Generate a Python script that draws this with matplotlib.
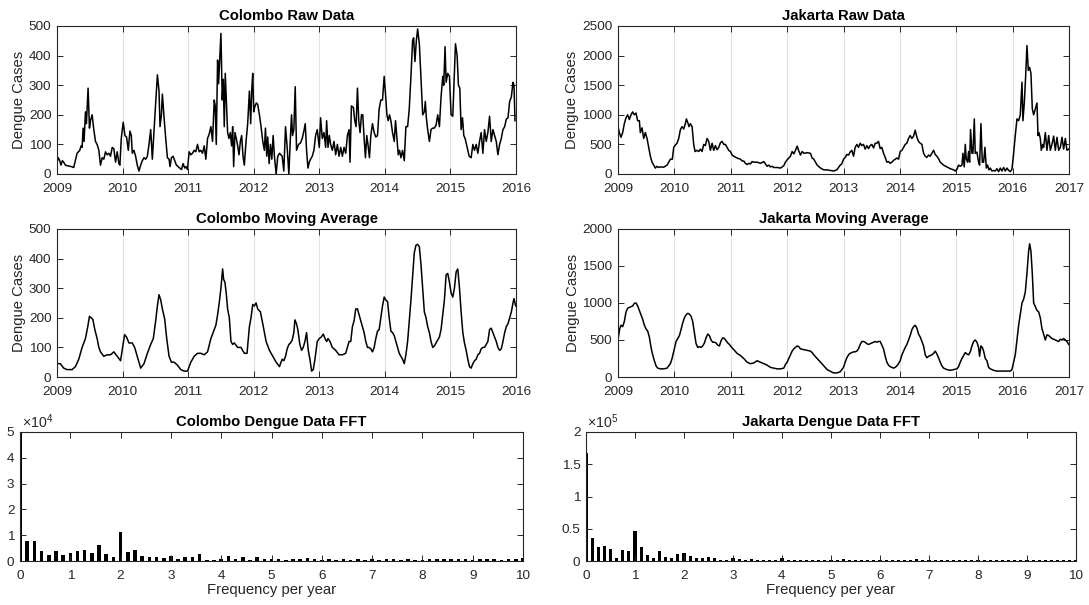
import numpy as np
import matplotlib
matplotlib.use("Agg")
import matplotlib.pyplot as plt
from matplotlib.ticker import FuncFormatter, MultipleLocator

plt.rcParams["font.family"] = ["Liberation Sans", "DejaVu Sans"]
plt.rcParams["mathtext.fontset"] = "custom"
plt.rcParams["mathtext.rm"] = "Liberation Sans"
plt.rcParams["mathtext.it"] = "Liberation Sans:italic"

# ---- data (decimal year, weekly cases) ----
colombo_raw_t = [
    2009.000, 2009.020, 2009.041, 2009.061, 2009.082, 2009.102, 2009.128, 2009.153, 2009.204, 2009.255,
    2009.306, 2009.347, 2009.367, 2009.383, 2009.398, 2009.413, 2009.434, 2009.449, 2009.474, 2009.495,
    2009.510, 2009.536, 2009.561, 2009.587, 2009.612, 2009.638, 2009.663, 2009.689, 2009.714, 2009.740,
    2009.765, 2009.791, 2009.816, 2009.842, 2009.867, 2009.893, 2009.918, 2009.944, 2009.959, 2009.980,
    2010.010, 2010.036, 2010.061, 2010.087, 2010.112, 2010.133, 2010.148, 2010.173, 2010.199, 2010.224,
    2010.250, 2010.276, 2010.301, 2010.327, 2010.352, 2010.378, 2010.403, 2010.429, 2010.454, 2010.480,
    2010.505, 2010.531, 2010.556, 2010.571, 2010.592, 2010.607, 2010.633, 2010.658, 2010.684, 2010.709,
    2010.724, 2010.745, 2010.770, 2010.796, 2010.821, 2010.847, 2010.872, 2010.898, 2010.923, 2010.949,
    2010.969, 2010.990, 2011.015, 2011.041, 2011.066, 2011.092, 2011.117, 2011.143, 2011.168, 2011.194,
    2011.219, 2011.245, 2011.270, 2011.296, 2011.321, 2011.347, 2011.372, 2011.398, 2011.413, 2011.429,
    2011.449, 2011.464, 2011.480, 2011.500, 2011.520, 2011.536, 2011.551, 2011.566, 2011.582, 2011.602,
    2011.622, 2011.643, 2011.663, 2011.679, 2011.694, 2011.714, 2011.735, 2011.755, 2011.776, 2011.796,
    2011.816, 2011.837, 2011.857, 2011.883, 2011.908, 2011.934, 2011.954, 2011.969, 2011.985, 2012.000,
    2012.020, 2012.041, 2012.061, 2012.087, 2012.112, 2012.138, 2012.163, 2012.179, 2012.199, 2012.214,
    2012.235, 2012.255, 2012.276, 2012.296, 2012.316, 2012.342, 2012.367, 2012.393, 2012.434, 2012.459,
    2012.485, 2012.510, 2012.536, 2012.561, 2012.577, 2012.592, 2012.612, 2012.633, 2012.653, 2012.684,
    2012.714, 2012.740, 2012.765, 2012.786, 2012.806, 2012.827, 2012.847, 2012.867, 2012.893, 2012.918,
    2012.944, 2012.969, 2013.000, 2013.020, 2013.046, 2013.071, 2013.097, 2013.112, 2013.133, 2013.153,
    2013.173, 2013.199, 2013.224, 2013.250, 2013.276, 2013.301, 2013.327, 2013.352, 2013.378, 2013.403,
    2013.429, 2013.454, 2013.469, 2013.490, 2013.520, 2013.541, 2013.561, 2013.582, 2013.602, 2013.622,
    2013.643, 2013.663, 2013.684, 2013.704, 2013.724, 2013.745, 2013.765, 2013.786, 2013.811, 2013.837,
    2013.862, 2013.888, 2013.913, 2013.939, 2013.964, 2013.990, 2014.010, 2014.031, 2014.051, 2014.071,
    2014.092, 2014.117, 2014.143, 2014.163, 2014.184, 2014.204, 2014.224, 2014.245, 2014.270, 2014.296,
    2014.321, 2014.347, 2014.372, 2014.398, 2014.423, 2014.439, 2014.459, 2014.480, 2014.500, 2014.526,
    2014.551, 2014.577, 2014.602, 2014.617, 2014.633, 2014.653, 2014.679, 2014.704, 2014.730, 2014.755,
    2014.781, 2014.806, 2014.832, 2014.857, 2014.883, 2014.898, 2014.918, 2014.934, 2014.959, 2014.985,
    2015.010, 2015.036, 2015.077, 2015.102, 2015.122, 2015.143, 2015.163, 2015.184, 2015.204, 2015.224,
    2015.255, 2015.286, 2015.316, 2015.342, 2015.367, 2015.393, 2015.418, 2015.444, 2015.469, 2015.495,
    2015.520, 2015.546, 2015.571, 2015.597, 2015.622, 2015.648, 2015.673, 2015.699, 2015.724, 2015.750,
    2015.776, 2015.801, 2015.827, 2015.852, 2015.878, 2015.903, 2015.929, 2015.954, 2015.969, 2015.985,
]
colombo_raw = [
    40, 55, 45, 30, 45, 40, 30, 28, 26, 22,
    70, 80, 95, 90, 155, 110, 210, 170, 290, 155,
    180, 200, 150, 110, 100, 80, 30, 55, 50, 75,
    65, 70, 60, 90, 85, 40, 75, 35, 30, 120,
    175, 130, 125, 80, 145, 130, 70, 80, 60, 30,
    10, 30, 45, 55, 50, 60, 100, 150, 50, 150,
    240, 335, 280, 160, 200, 270, 190, 120, 55, 50,
    25, 55, 60, 45, 30, 25, 20, 15, 35, 20,
    25, 15, 75, 65, 70, 80, 75, 100, 75, 80,
    70, 95, 50, 120, 135, 160, 110, 250, 230, 100,
    385, 305, 380, 475, 250, 320, 160, 340, 250, 140,
    120, 140, 95, 160, 25, 140, 120, 95, 65, 110,
    130, 60, 30, 110, 170, 280, 170, 280, 340, 210,
    230, 240, 235, 200, 160, 110, 80, 155, 60, 125,
    35, 100, 50, 130, 60, 0, 60, 70, 60, 10,
    160, 90, 0, 130, 200, 130, 150, 295, 80, 100,
    105, 120, 145, 170, 80, 20, 40, 50, 60, 80,
    130, 150, 90, 190, 120, 140, 90, 180, 90, 130,
    100, 80, 110, 65, 100, 60, 90, 60, 90, 70,
    130, 150, 40, 230, 225, 180, 160, 290, 180, 140,
    200, 200, 120, 55, 130, 95, 55, 130, 170, 140,
    125, 130, 220, 250, 250, 330, 270, 200, 180, 200,
    180, 140, 110, 180, 120, 65, 80, 55, 80, 45,
    160, 160, 220, 330, 450, 460, 380, 450, 490, 440,
    320, 200, 210, 245, 190, 150, 110, 150, 155, 155,
    165, 200, 160, 260, 330, 300, 430, 310, 340, 330,
    200, 195, 440, 400, 300, 290, 150, 190, 130, 120,
    90, 60, 55, 100, 80, 100, 70, 110, 140, 70,
    150, 110, 140, 195, 110, 150, 130, 110, 65, 100,
    120, 150, 160, 185, 190, 245, 260, 310, 300, 180,
]

colombo_ma_t = [
    2009.000, 2009.051, 2009.102, 2009.153, 2009.230, 2009.281, 2009.332, 2009.383, 2009.434, 2009.469,
    2009.495, 2009.520, 2009.546, 2009.577, 2009.612, 2009.638, 2009.663, 2009.714, 2009.765, 2009.816,
    2009.867, 2009.918, 2009.969, 2010.000, 2010.031, 2010.061, 2010.097, 2010.148, 2010.184, 2010.224,
    2010.276, 2010.327, 2010.378, 2010.429, 2010.469, 2010.505, 2010.531, 2010.556, 2010.582, 2010.607,
    2010.643, 2010.673, 2010.709, 2010.745, 2010.786, 2010.837, 2010.888, 2010.939, 2010.990, 2011.041,
    2011.092, 2011.143, 2011.194, 2011.245, 2011.296, 2011.347, 2011.398, 2011.423, 2011.449, 2011.474,
    2011.500, 2011.526, 2011.541, 2011.561, 2011.582, 2011.602, 2011.628, 2011.653, 2011.679, 2011.704,
    2011.755, 2011.806, 2011.857, 2011.898, 2011.934, 2011.959, 2011.985, 2012.010, 2012.036, 2012.061,
    2012.102, 2012.138, 2012.189, 2012.240, 2012.291, 2012.342, 2012.393, 2012.408, 2012.434, 2012.459,
    2012.485, 2012.510, 2012.536, 2012.561, 2012.587, 2012.612, 2012.628, 2012.653, 2012.673, 2012.704,
    2012.730, 2012.755, 2012.781, 2012.806, 2012.832, 2012.857, 2012.883, 2012.908, 2012.934, 2012.969,
    2013.000, 2013.031, 2013.061, 2013.087, 2013.112, 2013.133, 2013.163, 2013.199, 2013.250, 2013.301,
    2013.352, 2013.403, 2013.429, 2013.454, 2013.480, 2013.505, 2013.531, 2013.556, 2013.582, 2013.607,
    2013.633, 2013.658, 2013.684, 2013.709, 2013.735, 2013.760, 2013.786, 2013.811, 2013.837, 2013.862,
    2013.888, 2013.913, 2013.939, 2013.964, 2013.990, 2014.015, 2014.041, 2014.066, 2014.092, 2014.117,
    2014.143, 2014.168, 2014.194, 2014.219, 2014.245, 2014.270, 2014.296, 2014.321, 2014.347, 2014.372,
    2014.398, 2014.423, 2014.449, 2014.474, 2014.500, 2014.526, 2014.551, 2014.577, 2014.602, 2014.628,
    2014.653, 2014.679, 2014.704, 2014.730, 2014.755, 2014.781, 2014.806, 2014.832, 2014.857, 2014.883,
    2014.908, 2014.934, 2014.959, 2014.985, 2015.010, 2015.036, 2015.061, 2015.087, 2015.112, 2015.138,
    2015.163, 2015.189, 2015.214, 2015.240, 2015.265, 2015.291, 2015.316, 2015.342, 2015.367, 2015.393,
    2015.418, 2015.444, 2015.469, 2015.495, 2015.520, 2015.546, 2015.571, 2015.597, 2015.622, 2015.648,
    2015.673, 2015.699, 2015.724, 2015.750, 2015.776, 2015.801, 2015.827, 2015.852, 2015.878, 2015.903,
    2015.929, 2015.954, 2015.969, 2015.995,
]
colombo_ma = [
    45, 45, 30, 25, 25, 35, 60, 100, 130, 170,
    205, 200, 195, 160, 130, 100, 85, 70, 75, 75,
    85, 70, 55, 100, 143, 135, 115, 115, 100, 70,
    30, 45, 80, 110, 130, 190, 240, 278, 260, 230,
    195, 130, 70, 50, 50, 40, 25, 20, 20, 50,
    70, 80, 80, 75, 85, 130, 160, 175, 210, 250,
    300, 365, 330, 320, 280, 230, 200, 120, 110, 115,
    100, 100, 80, 80, 170, 200, 245, 240, 250, 230,
    220, 180, 120, 90, 70, 50, 35, 45, 60, 55,
    70, 95, 110, 115, 125, 150, 193, 180, 160, 110,
    90, 100, 120, 150, 90, 60, 20, 25, 60, 120,
    130, 135, 145, 130, 120, 130, 120, 100, 90, 75,
    75, 80, 100, 120, 120, 170, 190, 230, 230, 210,
    190, 170, 150, 120, 100, 100, 95, 85, 100, 130,
    155, 160, 200, 240, 270, 260, 255, 200, 155, 150,
    140, 120, 100, 80, 70, 60, 45, 75, 120, 190,
    260, 340, 420, 445, 448, 440, 380, 300, 220, 200,
    170, 150, 120, 100, 105, 115, 125, 135, 160, 210,
    260, 345, 350, 320, 285, 270, 300, 355, 365, 300,
    220, 150, 115, 90, 60, 35, 30, 45, 55, 60,
    75, 80, 95, 100, 100, 110, 120, 160, 165, 150,
    135, 120, 100, 90, 95, 120, 150, 170, 180, 200,
    220, 250, 265, 240,
]

jakarta_raw_t = [
    2009.000, 2009.024, 2009.053, 2009.083, 2009.112, 2009.142, 2009.172, 2009.201, 2009.231, 2009.260,
    2009.290, 2009.320, 2009.349, 2009.379, 2009.396, 2009.426, 2009.456, 2009.485, 2009.515, 2009.544,
    2009.574, 2009.604, 2009.633, 2009.663, 2009.692, 2009.722, 2009.751, 2009.811, 2009.870, 2009.899,
    2009.929, 2009.964, 2009.988, 2010.018, 2010.047, 2010.077, 2010.107, 2010.136, 2010.166, 2010.195,
    2010.213, 2010.237, 2010.260, 2010.284, 2010.314, 2010.343, 2010.367, 2010.402, 2010.432, 2010.462,
    2010.491, 2010.521, 2010.550, 2010.580, 2010.609, 2010.639, 2010.669, 2010.698, 2010.728, 2010.757,
    2010.787, 2010.817, 2010.846, 2010.876, 2010.905, 2010.935, 2010.964, 2010.994, 2011.024, 2011.053,
    2011.112, 2011.172, 2011.201, 2011.231, 2011.260, 2011.290, 2011.320, 2011.349, 2011.379, 2011.408,
    2011.467, 2011.527, 2011.586, 2011.645, 2011.675, 2011.704, 2011.734, 2011.763, 2011.822, 2011.882,
    2011.941, 2011.970, 2012.000, 2012.030, 2012.059, 2012.089, 2012.118, 2012.148, 2012.178, 2012.207,
    2012.237, 2012.266, 2012.296, 2012.355, 2012.414, 2012.444, 2012.473, 2012.503, 2012.533, 2012.592,
    2012.651, 2012.710, 2012.763, 2012.822, 2012.882, 2012.941, 2012.970, 2013.000, 2013.030, 2013.059,
    2013.089, 2013.118, 2013.148, 2013.178, 2013.207, 2013.237, 2013.266, 2013.296, 2013.325, 2013.355,
    2013.385, 2013.414, 2013.444, 2013.473, 2013.503, 2013.533, 2013.562, 2013.592, 2013.621, 2013.651,
    2013.680, 2013.710, 2013.740, 2013.769, 2013.799, 2013.828, 2013.858, 2013.888, 2013.917, 2013.947,
    2013.976, 2014.006, 2014.036, 2014.065, 2014.095, 2014.124, 2014.154, 2014.183, 2014.213, 2014.243,
    2014.272, 2014.302, 2014.331, 2014.361, 2014.391, 2014.420, 2014.450, 2014.479, 2014.509, 2014.538,
    2014.568, 2014.598, 2014.627, 2014.657, 2014.686, 2014.716, 2014.775, 2014.834, 2014.893, 2014.953,
    2014.982, 2015.012, 2015.041, 2015.071, 2015.101, 2015.118, 2015.142, 2015.160, 2015.178, 2015.201,
    2015.219, 2015.237, 2015.254, 2015.278, 2015.296, 2015.320, 2015.337, 2015.367, 2015.396, 2015.414,
    2015.438, 2015.462, 2015.485, 2015.509, 2015.533, 2015.556, 2015.580, 2015.604, 2015.633, 2015.663,
    2015.692, 2015.722, 2015.751, 2015.781, 2015.811, 2015.840, 2015.870, 2015.899, 2015.929, 2015.959,
    2015.988, 2016.018, 2016.047, 2016.077, 2016.107, 2016.136, 2016.166, 2016.183, 2016.207, 2016.231,
    2016.254, 2016.278, 2016.302, 2016.325, 2016.349, 2016.373, 2016.402, 2016.432, 2016.450, 2016.467,
    2016.491, 2016.509, 2016.533, 2016.550, 2016.580, 2016.609, 2016.639, 2016.669, 2016.698, 2016.728,
    2016.757, 2016.787, 2016.817, 2016.846, 2016.876, 2016.905, 2016.935, 2016.964, 2016.994,
]
jakarta_raw = [
    800, 700, 620, 700, 850, 950, 1000, 920, 1000, 1050,
    1000, 1030, 900, 900, 700, 780, 600, 700, 600, 450,
    300, 200, 150, 100, 130, 110, 120, 115, 150, 200,
    250, 250, 450, 490, 520, 600, 750, 800, 760, 850,
    930, 870, 800, 850, 800, 500, 380, 400, 380, 420,
    380, 500, 480, 600, 550, 400, 520, 400, 480, 410,
    450, 530, 550, 500, 500, 450, 400, 380, 320, 300,
    270, 250, 220, 220, 180, 160, 180, 170, 210, 200,
    200, 180, 210, 130, 150, 120, 130, 110, 110, 100,
    140, 200, 240, 270, 300, 380, 340, 400, 470, 390,
    320, 380, 350, 360, 350, 270, 250, 200, 150, 100,
    70, 70, 60, 50, 70, 150, 170, 250, 280, 330,
    320, 370, 400, 300, 450, 500, 450, 520, 480, 500,
    420, 480, 430, 480, 500, 440, 520, 520, 550, 430,
    450, 350, 280, 200, 210, 180, 200, 230, 250, 270,
    250, 380, 400, 450, 500, 520, 600, 650, 600, 640,
    740, 620, 550, 520, 500, 350, 300, 280, 320, 300,
    350, 400, 330, 300, 260, 200, 150, 120, 90, 70,
    50, 80, 150, 130, 150, 350, 120, 500, 250, 200,
    380, 200, 750, 350, 350, 930, 350, 370, 200, 150,
    850, 200, 200, 450, 100, 150, 70, 100, 50, 60,
    50, 90, 40, 100, 50, 110, 50, 100, 60, 40,
    80, 350, 650, 930, 900, 1000, 1550, 900, 1200, 1650,
    2170, 1750, 1800, 1700, 1100, 1000, 1100, 1200, 650, 700,
    600, 400, 500, 450, 700, 400, 650, 400, 500, 640,
    400, 620, 400, 450, 620, 420, 600, 400, 420,
]

jakarta_ma_t = [
    2009.000, 2009.030, 2009.053, 2009.083, 2009.112, 2009.142, 2009.172, 2009.201, 2009.231, 2009.260,
    2009.290, 2009.320, 2009.349, 2009.379, 2009.408, 2009.438, 2009.467, 2009.497, 2009.527, 2009.556,
    2009.586, 2009.615, 2009.645, 2009.675, 2009.704, 2009.751, 2009.811, 2009.870, 2009.929, 2009.959,
    2010.000, 2010.030, 2010.059, 2010.089, 2010.118, 2010.148, 2010.178, 2010.207, 2010.237, 2010.266,
    2010.296, 2010.325, 2010.355, 2010.385, 2010.414, 2010.444, 2010.473, 2010.503, 2010.533, 2010.562,
    2010.592, 2010.621, 2010.651, 2010.680, 2010.710, 2010.740, 2010.769, 2010.799, 2010.828, 2010.858,
    2010.888, 2010.917, 2010.947, 2010.976, 2011.006, 2011.053, 2011.112, 2011.172, 2011.231, 2011.290,
    2011.349, 2011.408, 2011.467, 2011.497, 2011.527, 2011.586, 2011.645, 2011.704, 2011.763, 2011.822,
    2011.882, 2011.941, 2011.970, 2012.000, 2012.030, 2012.059, 2012.089, 2012.118, 2012.148, 2012.178,
    2012.207, 2012.237, 2012.296, 2012.355, 2012.414, 2012.444, 2012.473, 2012.533, 2012.592, 2012.651,
    2012.710, 2012.822, 2012.882, 2012.941, 2013.000, 2013.030, 2013.059, 2013.089, 2013.118, 2013.148,
    2013.178, 2013.207, 2013.237, 2013.266, 2013.296, 2013.325, 2013.355, 2013.385, 2013.414, 2013.444,
    2013.473, 2013.503, 2013.533, 2013.562, 2013.592, 2013.621, 2013.651, 2013.680, 2013.710, 2013.740,
    2013.769, 2013.799, 2013.828, 2013.858, 2013.888, 2013.917, 2013.947, 2013.976, 2014.006, 2014.036,
    2014.065, 2014.095, 2014.124, 2014.154, 2014.183, 2014.213, 2014.243, 2014.272, 2014.302, 2014.331,
    2014.361, 2014.391, 2014.420, 2014.450, 2014.479, 2014.509, 2014.538, 2014.568, 2014.598, 2014.627,
    2014.657, 2014.686, 2014.716, 2014.746, 2014.775, 2014.834, 2014.893, 2014.953, 2015.012, 2015.041,
    2015.071, 2015.101, 2015.130, 2015.160, 2015.189, 2015.219, 2015.249, 2015.278, 2015.308, 2015.337,
    2015.367, 2015.396, 2015.414, 2015.438, 2015.462, 2015.485, 2015.515, 2015.544, 2015.574, 2015.604,
    2015.663, 2015.722, 2015.781, 2015.840, 2015.899, 2015.959, 2015.988, 2016.018, 2016.047, 2016.077,
    2016.107, 2016.136, 2016.166, 2016.195, 2016.225, 2016.254, 2016.284, 2016.302, 2016.325, 2016.349,
    2016.373, 2016.402, 2016.432, 2016.462, 2016.491, 2016.521, 2016.550, 2016.580, 2016.609, 2016.639,
    2016.669, 2016.698, 2016.728, 2016.757, 2016.787, 2016.817, 2016.846, 2016.876, 2016.905, 2016.935,
    2016.964, 2016.994,
]
jakarta_ma = [
    500, 650, 700, 680, 750, 880, 930, 940, 950, 960,
    995, 1000, 960, 900, 840, 780, 700, 650, 620, 540,
    400, 300, 220, 150, 120, 110, 110, 120, 180, 250,
    380, 480, 520, 560, 640, 730, 800, 840, 860, 850,
    820, 750, 600, 450, 400, 410, 400, 420, 460, 530,
    580, 560, 500, 470, 470, 460, 430, 420, 490, 530,
    520, 490, 460, 440, 410, 370, 320, 290, 250, 200,
    180, 190, 220, 210, 200, 180, 160, 130, 120, 110,
    110, 120, 170, 200, 250, 300, 350, 380, 400, 420,
    410, 380, 370, 360, 350, 330, 300, 250, 200, 150,
    100, 55, 55, 70, 130, 200, 260, 300, 320, 330,
    340, 340, 350, 380, 440, 480, 480, 470, 450, 440,
    450, 460, 470, 480, 470, 480, 480, 430, 380, 280,
    200, 160, 140, 130, 120, 130, 150, 180, 220, 300,
    350, 400, 440, 500, 560, 640, 680, 700, 660, 580,
    540, 480, 420, 300, 260, 280, 290, 300, 320, 350,
    310, 260, 200, 150, 120, 100, 90, 100, 110, 140,
    200, 250, 290, 330, 310, 300, 340, 420, 480, 500,
    470, 400, 280, 420, 400, 350, 250, 220, 130, 110,
    90, 80, 80, 80, 80, 80, 100, 200, 300, 500,
    700, 850, 1000, 1050, 1150, 1400, 1700, 1800, 1700, 1400,
    1000, 950, 900, 880, 800, 650, 580, 500, 570, 560,
    540, 520, 510, 500, 490, 480, 510, 500, 520, 500,
    480, 440,
]

# FFT magnitudes, one bar per frequency bin (bin spacing = 1 / years of data)
colombo_years = 7
colombo_fft = [
    49500, 7800, 7800, 3900, 2500, 3800, 2500, 3100, 3800, 4400,
    3000, 6100, 2600, 1700, 11400, 3600, 4100, 2100, 1400, 1700,
    1000, 2100, 900, 1700, 1700, 2600, 300, 500, 800, 2000,
    900, 1400, 300, 1400, 900, 600, 800, 500, 700, 600,
    1300, 700, 500, 600, 500, 700, 400, 900, 300, 700,
    500, 600, 600, 400, 700, 500, 300, 600, 900, 700,
    600, 800, 600, 400, 900, 700, 600, 500, 900, 600,
    1000,
]
jakarta_years = 8
jakarta_fft = [
    168000, 36000, 22000, 23000, 18000, 5000, 17000, 15000, 46000, 21000,
    9000, 4000, 16000, 6000, 4000, 11000, 13000, 8000, 5000, 4000,
    6000, 4000, 1000, 1000, 5000, 3000, 2000, 3000, 2000, 1500,
    1500, 1500, 4000, 2000, 1000, 1000, 1500, 1000, 1000, 2000,
    1500, 2000, 2500, 1500, 1000, 1500, 1000, 1500, 2000, 1000,
    1000, 1500, 1000, 1500, 2500, 1000, 1000, 1500, 1000, 1000,
    1000, 1500, 1000, 1000, 1000, 1000, 1000, 1000, 1000, 1000,
    1000, 1000, 1000, 1000, 1000, 1000, 1000, 1000, 1000, 1000,
    1000,
]

DARK = "#262626"
W, H = 1089, 605

fig = plt.figure(figsize=(W / 100, H / 100), dpi=100)


def box(left, top, right, bottom):
    return [left / W, 1 - bottom / H, (right - left) / W, (bottom - top) / H]


def style(ax):
    ax.tick_params(direction="in", top=True, right=True, length=4, width=0.7,
                   colors=DARK, labelsize=9.7, pad=4)
    ax.tick_params(axis="x", pad=6.5)
    for s in ax.spines.values():
        s.set_color(DARK)
        s.set_linewidth(0.8)


def series_panel(rect, t, v, title, x_end, y_max, y_step):
    ax = fig.add_axes(rect)
    style(ax)
    ax.plot(t, v, color="black", lw=1.1)
    ax.set_xlim(2009, x_end)
    ax.set_xticks(range(2009, x_end + 1))
    ax.set_xticklabels([str(y) for y in range(2009, x_end + 1)])
    ax.set_ylim(0, y_max)
    ax.yaxis.set_major_locator(MultipleLocator(y_step))
    ax.grid(axis="x", color="#e2e2e2", lw=0.8)
    ax.set_axisbelow(True)
    ax.set_title(title, fontsize=10.7, fontweight="bold", pad=4)
    ax.set_ylabel("Dengue Cases", fontsize=10.7, color=DARK, labelpad=2)
    return ax


def fft_panel(rect, vals, years, title, y_max, y_step, power):
    ax = fig.add_axes(rect)
    style(ax)
    freq = np.arange(len(vals)) / years
    ax.bar(freq, vals, width=0.5 / years, color="black", linewidth=0)
    ax.set_xlim(0, 10)
    ax.xaxis.set_major_locator(MultipleLocator(1))
    ax.set_ylim(0, y_max)
    ax.yaxis.set_major_locator(MultipleLocator(y_step))
    scale = 10.0 ** power
    ax.yaxis.set_major_formatter(FuncFormatter(lambda v, _: f"{v / scale:g}"))
    ax.text(0.003, 1.01, r"$\times$10$^{%d}$" % power, transform=ax.transAxes,
            ha="left", va="bottom", fontsize=10.2, color=DARK)
    ax.set_title(title, fontsize=10.7, fontweight="bold", pad=4)
    ax.set_xlabel("Frequency per year", fontsize=10.7, color=DARK, labelpad=1)
    return ax


series_panel(box(57, 26, 516, 174), colombo_raw_t, colombo_raw,
             "Colombo Raw Data", 2016, 500, 100)
series_panel(box(618, 26, 1069, 174), jakarta_raw_t, jakarta_raw,
             "Jakarta Raw Data", 2017, 2500, 500)
series_panel(box(57, 229, 516, 377), colombo_ma_t, colombo_ma,
             "Colombo Moving Average", 2016, 500, 100)
series_panel(box(618, 229, 1069, 377), jakarta_ma_t, jakarta_ma,
             "Jakarta Moving Average", 2017, 2000, 500)
fft_panel(box(20, 432, 523, 561), colombo_fft, colombo_years,
          "Colombo Dengue Data FFT", 5e4, 1e4, 4)
fft_panel(box(586, 432, 1076, 561), jakarta_fft, jakarta_years,
          "Jakarta Dengue Data FFT", 2e5, 0.5e5, 5)

fig.savefig("out.png", dpi=100)
